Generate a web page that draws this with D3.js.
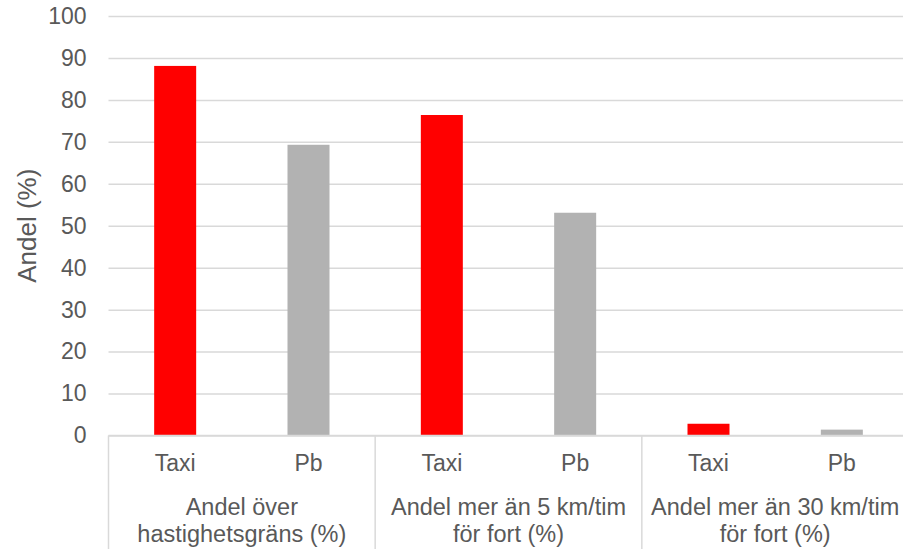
<!DOCTYPE html>
<html>
<head>
<meta charset="utf-8">
<script src="https://cdn.jsdelivr.net/npm/d3@7"></script>
<style>
  html, body { margin: 0; padding: 0; background: #fff; }
  svg { display: block; font-family: "Liberation Sans", Arial, sans-serif; }
</style>
</head>
<body>
<svg id="chart" width="903" height="549"></svg>
<script>
// Groups (two-line labels) and the vehicle categories inside each group
const groups = [
  ["Andel över", "hastighetsgräns (%)"],
  ["Andel mer än 5 km/tim", "för fort (%)"],
  ["Andel mer än 30 km/tim", "för fort (%)"]
];
const categories = ["Taxi", "Pb"];
// Share (%) per group, one array per category
const taxiValues = [88.1, 76.4, 2.8];
const pbValues   = [69.3, 53.1, 1.4];
const yTicks = [0, 10, 20, 30, 40, 50, 60, 70, 80, 90, 100];
const yTitle = "Andel (%)";
const colors = { Taxi: "#ff0000", Pb: "#b2b2b2" };

const rows = groups.map((g, i) => ({
  key: i,
  label: g,
  values: [
    { cat: "Taxi", value: taxiValues[i] },
    { cat: "Pb", value: pbValues[i] }
  ]
}));

const svg = d3.select("#chart");
const plot = { left: 108.5, right: 908.5, top: 16, bottom: 435.5 };
const textColor = "#595959", lineColor = "#d9d9d9";

const x0 = d3.scaleBand().domain(rows.map(r => r.key)).range([plot.left, plot.right]).padding(0);
const x1 = d3.scaleBand().domain(categories).range([0, x0.bandwidth()]).paddingInner(0.685).paddingOuter(0.3425);
const y = d3.scaleLinear().domain([0, 100]).range([plot.bottom, plot.top]);

// Horizontal gridlines and tick labels
const yAxis = svg.append("g")
  .attr("transform", `translate(${plot.left},0)`)
  .call(d3.axisLeft(y).tickValues(yTicks).tickSize(-(plot.right - plot.left)).tickPadding(22));
yAxis.select(".domain").remove();
yAxis.selectAll(".tick line").attr("stroke", lineColor).attr("stroke-width", 1.5);
yAxis.selectAll(".tick text")
  .attr("fill", textColor)
  .style("font-size", "23px")
  .style("font-family", "'Liberation Sans', Arial, sans-serif");

// Bars
svg.append("g")
  .selectAll("g.grp")
  .data(rows)
  .join("g")
  .attr("class", "grp")
  .attr("transform", d => `translate(${x0(d.key)},0)`)
  .selectAll("rect")
  .data(d => d.values)
  .join("rect")
  .attr("x", d => x1(d.cat))
  .attr("width", x1.bandwidth())
  .attr("y", d => y(d.value))
  .attr("height", d => y(0) - y(d.value))
  .attr("fill", d => colors[d.cat]);

// Category axis line and group separators
svg.append("line")
  .attr("x1", plot.left).attr("x2", plot.right)
  .attr("y1", plot.bottom).attr("y2", plot.bottom)
  .attr("stroke", lineColor).attr("stroke-width", 1.5);
const seps = rows.map(r => x0(r.key)).concat([plot.right]);
svg.selectAll("line.sep")
  .data(seps)
  .join("line")
  .attr("class", "sep")
  .attr("x1", d => d).attr("x2", d => d)
  .attr("y1", plot.bottom).attr("y2", 549)
  .attr("stroke", lineColor).attr("stroke-width", 1.5);

// Category labels
const catLayer = svg.append("g");
rows.forEach(r => {
  catLayer.append("g").selectAll("text")
    .data(categories)
    .join("text")
    .attr("x", c => x0(r.key) + x1(c) + x1.bandwidth() / 2)
    .attr("y", 471)
    .attr("text-anchor", "middle")
    .attr("fill", textColor)
    .style("font-size", "23px")
    .text(c => c);
});

// Group labels (two lines)
svg.selectAll("text.grplabel")
  .data(rows)
  .join("text")
  .attr("class", "grplabel")
  .attr("text-anchor", "middle")
  .attr("fill", textColor)
  .style("font-size", "23.5px")
  .each(function(d) {
    const t = d3.select(this);
    const cx = x0(d.key) + x0.bandwidth() / 2;
    d.label.forEach((line, i) => {
      t.append("tspan").attr("x", cx).attr("y", 515 + i * 26.5).text(line);
    });
  });

// Y axis title
svg.append("text")
  .attr("transform", `translate(36,${(plot.top + plot.bottom) / 2}) rotate(-90)`)
  .attr("text-anchor", "middle")
  .attr("fill", textColor)
  .style("font-size", "26px")
  .text(yTitle);
</script>
</body>
</html>
